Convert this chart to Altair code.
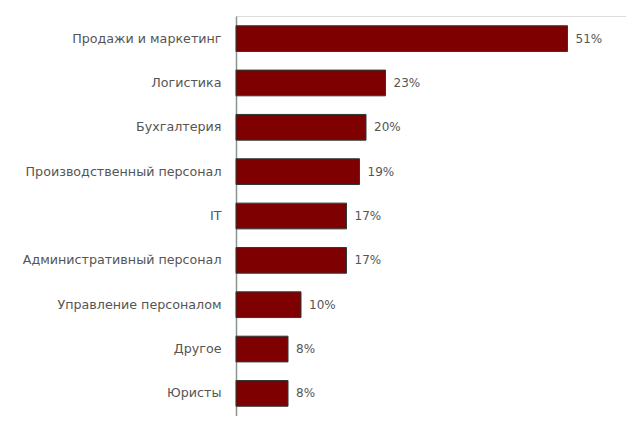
import altair as alt
import pandas as pd

categories = ["Продажи и маркетинг", "Логистика", "Бухгалтерия",
              "Производственный персонал", "IT", "Административный персонал",
              "Управление персоналом", "Другое", "Юристы"]
values = [51, 23, 20, 19, 17, 17, 10, 8, 8]
labels = ["51%", "23%", "20%", "19%", "17%", "17%", "10%", "8%", "8%"]

df = pd.DataFrame({"cat": categories, "val": values, "lab": labels})

FONT = "DejaVu Sans"
TXT = "#555555"

y = alt.Y("cat:N", sort=categories, title=None,
          scale=alt.Scale(paddingInner=0.42, paddingOuter=0.22),
          axis=alt.Axis(domainColor="#8a9590", domainWidth=1.5, ticks=False,
                        labelPadding=15, labelFont=FONT, labelFontSize=12.7,
                        labelColor=TXT, labelLimit=300))
x = alt.X("val:Q", title=None, scale=alt.Scale(domain=[0, 60]), axis=None)

bars = alt.Chart(df).mark_bar(color="#7f0000", stroke="#2a3a38", strokeWidth=1).encode(x=x, y=y)
text = alt.Chart(df).mark_text(align="left", baseline="middle", dx=8, font=FONT,
                               fontSize=12, color=TXT).encode(x=x, y=y, text="lab:N")

chart = (bars + text).properties(
    width=390, height=400,
    autosize=alt.AutoSizeParams(type="none"),
    padding={"left": 228, "top": 8, "right": 0, "bottom": 0},
).configure_view(stroke=None).configure(background="white")

chart.save("out.html", embed_options={"renderer": "svg", "actions": False})
